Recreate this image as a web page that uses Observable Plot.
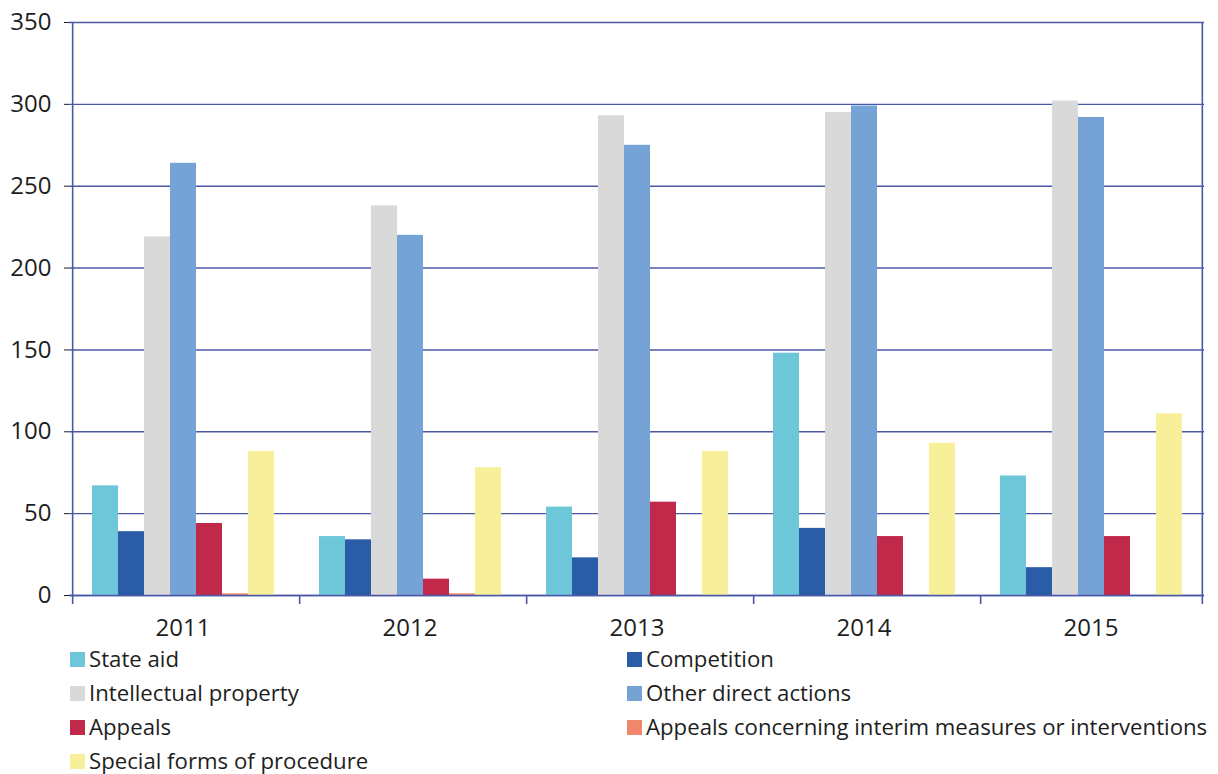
<!DOCTYPE html>
<html><head><meta charset="utf-8">
<script src="https://cdn.jsdelivr.net/npm/d3@7"></script>
<script src="https://cdn.jsdelivr.net/npm/@observablehq/plot@0.6"></script>
<style>
body{margin:0;background:#fff;font-family:"Open Sans",sans-serif;}
#chart svg{display:block;}
#legend{display:grid;grid-template-columns:557px 560px;margin-left:70px;margin-top:2px;font-size:22.2px;line-height:1.1;color:#1e1e1e;}
#legend .item{height:34px;display:flex;align-items:center;white-space:nowrap;}
#legend .sw{width:15px;height:15px;margin-right:4px;flex:none;}
</style></head><body>
<div id="chart"></div><div id="legend"></div>
<script>
const years = ["2011", "2012", "2013", "2014", "2015"];
const series = ["State aid", "Competition", "Intellectual property", "Other direct actions", "Appeals", "Appeals concerning interim measures or interventions", "Special forms of procedure"];
const colors = ["#6ec6d9", "#2b5ca8", "#d9d9d9", "#75a3d6", "#c0294a", "#f0866a", "#f7ef9a"];
const stateAid = [67, 36, 54, 148, 73];
const competition = [39, 34, 23, 41, 17];
const intellectualProperty = [219, 238, 293, 295, 302];
const otherDirectActions = [264, 220, 275, 299, 292];
const appeals = [44, 10, 57, 36, 36];
const appealsInterim = [1, 1, 0, 0, 0];
const specialForms = [88, 78, 88, 93, 111];
const yTicks = [0, 50, 100, 150, 200, 250, 300, 350];

const valuesBySeries = [stateAid, competition, intellectualProperty, otherDirectActions, appeals, appealsInterim, specialForms];
const data = [];
years.forEach((yr, i) => series.forEach((s, j) => data.push({year: yr, series: s, value: valuesBySeries[j][i]})));

const W = 1218, H = 640, ml = 68, mr = 14, mt = 22, mb = H - 595;
const po = 0.72;
const groupW = (W - ml - mr) / years.length;
const step = groupW / (series.length + 2 * po);
const edgeOffset = po * step + step / 2; // rules are centred in their band
const axisColor = "#4a58a8";

const edges = years.map(yr => ({year: yr, first: series[0]}));
const plot = Plot.plot({
  width: W, height: H, marginLeft: ml, marginRight: mr, marginTop: mt, marginBottom: mb,
  style: {fontFamily: "Open Sans", fontSize: "24px", color: "#1e1e1e", background: "#fff", overflow: "visible"},
  fx: {domain: years, padding: 0, label: null, axis: "bottom", tickSize: 0, tickPadding: 23},
  x: {domain: series, paddingInner: 0, paddingOuter: po, axis: null},
  y: {domain: [0, 350], ticks: yTicks, label: null, tickSize: 5, tickPadding: 13},
  color: {domain: series, range: colors},
  marks: [
    Plot.ruleY(yTicks, {stroke: axisColor, strokeWidth: 1.4}),
    Plot.barY(data, {fx: "year", x: "series", y: "value", fill: "series"}),
    Plot.ruleY([0], {stroke: axisColor, strokeWidth: 1.6}),
    Plot.ruleX(edges, {fx: "year", x: "first", y1: d => d.year === years[0] ? 350 : 0, y2: -5.5, dx: -edgeOffset, stroke: axisColor, strokeWidth: 1.6}),
    Plot.ruleX([{year: years[years.length - 1], last: series[series.length - 1]}], {fx: "year", x: "last", y1: -5.5, y2: 350, dx: edgeOffset, stroke: axisColor, strokeWidth: 1.6})
  ]
});
document.getElementById("chart").appendChild(plot);

const legend = document.getElementById("legend");
series.forEach((s, j) => {
  const it = document.createElement("div");
  it.className = "item";
  it.innerHTML = `<span class="sw" style="background:${colors[j]}"></span><span>${s}</span>`;
  legend.appendChild(it);
});
</script>
</body></html>
